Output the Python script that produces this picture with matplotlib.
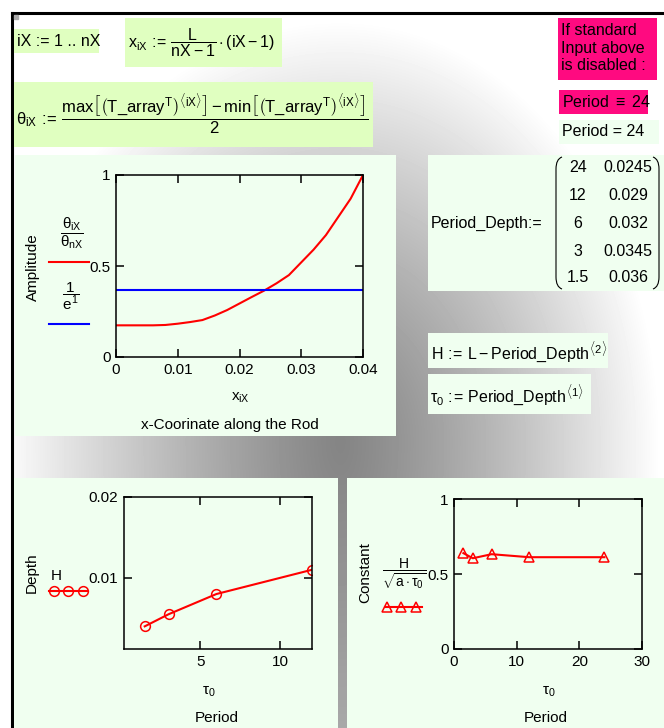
#!/usr/bin/env python3
"""Mathcad worksheet: amplitude along the rod and penetration depth vs period."""
import numpy as np
import matplotlib
matplotlib.use("Agg")
import matplotlib.pyplot as plt
from matplotlib.patches import Rectangle, PathPatch
from matplotlib.path import Path

plt.rcParams["font.family"] = ["Liberation Sans", "DejaVu Sans"]
plt.rcParams["mathtext.fontset"] = "custom"
plt.rcParams["mathtext.rm"] = "Liberation Sans"
plt.rcParams["mathtext.it"] = "Liberation Sans"
plt.rcParams["mathtext.bf"] = "Liberation Sans:bold"
plt.rcParams["mathtext.sf"] = "Liberation Sans"

x_rod = [0.0, 0.002, 0.004, 0.006, 0.008, 0.010, 0.012, 0.014, 0.016, 0.018, 0.020,
         0.022, 0.024, 0.026, 0.028, 0.030, 0.032, 0.034, 0.036, 0.038, 0.040]
amplitude = [0.174, 0.174, 0.174, 0.174, 0.176, 0.183, 0.192, 0.203, 0.228, 0.258, 0.294,
             0.330, 0.365, 0.405, 0.450, 0.520, 0.590, 0.670, 0.770, 0.870, 1.000]
inv_e = 0.368

period = [24, 12, 6, 3, 1.5]
depth = [0.0245, 0.029, 0.032, 0.0345, 0.036]
h_depth = [0.0155, 0.011, 0.008, 0.0055, 0.004]
constant = [0.612, 0.612, 0.632, 0.605, 0.639]

W, H = 664, 728
GREEN = "#e0ffc0"
PANEL = "#f0fff0"
PINK = "#ff0a80"
FS = 11.5
TICK_FS = 11
ASSIGN = r"\,:\!\!=\,"

fig = plt.figure(figsize=(W / 100, H / 100), dpi=100)
bg = fig.add_axes([0, 0, 1, 1])
bg.set_xlim(0, W)
bg.set_ylim(H, 0)
bg.axis("off")

# grey radial backdrop of the worksheet
yy, xx = np.mgrid[0:H, 0:W]
dx = (xx - 340) / np.where(xx < 340, 340, 320)
dy = (yy - 440) / np.where(yy < 440, 420, 800)
r = np.clip(np.hypot(dx, dy), 0, 1)
shade = 0.52 + 0.48 * r ** 1.2
shade[:13, :] = 1.0
shade[:, :11] = 1.0
bg.imshow(shade, extent=(0, W, H, 0), cmap="gray", vmin=0, vmax=1, aspect="auto", zorder=0)
bg.plot([12, 12], [13, H], color="black", lw=2.2, zorder=1)
bg.plot([12, W], [13, 13], color="black", lw=2.2, zorder=1)
bg.add_patch(Rectangle((14, 15), 4, 4, color="#aaaaaa", zorder=1))


def box(x0, y0, x1, y1, color):
    bg.add_patch(Rectangle((x0, y0), x1 - x0, y1 - y0, color=color, lw=0, zorder=2))


def txt(x, y, s, ha="left", size=FS, **kw):
    bg.text(x, y, s, ha=ha, va="center", fontsize=size, zorder=3, **kw)


box(14, 29, 99, 53, GREEN)
box(125, 18, 282, 67, GREEN)
box(14, 82, 373, 147, GREEN)
box(558, 18, 657, 80, PINK)
box(559, 90, 648, 114, PINK)
box(559, 120, 659, 144, PANEL)
box(428, 155, 664, 291, PANEL)
box(428, 333, 608, 368, PANEL)
box(428, 374, 591, 414, PANEL)
box(15, 155, 396, 436, PANEL)
box(14, 478, 338, H, PANEL)
box(347, 478, W, H, PANEL)

txt(17, 42, "iX := 1 .. nX")
txt(128, 43, r"$x_{iX}" + ASSIGN + r"\dfrac{L}{nX-1}\cdot(iX-1)$")
txt(16, 115, r"$\theta_{iX}" + ASSIGN
    + r"\dfrac{max\left[\left(T\_array^{T}\right)^{\langle iX\rangle}\right]"
      r"-min\left[\left(T\_array^{T}\right)^{\langle iX\rangle}\right]}{2}$", size=12)
bg.text(561, 48, "If standard\nInput above\nis disabled :", ha="left", va="center",
        fontsize=FS, linespacing=1.2, zorder=3)
txt(562, 102, r"Period $\equiv$ 24")
txt(562, 132, "Period = 24")

# Period_Depth matrix
txt(431, 223, "Period_Depth:=")
row_y = [168, 196, 223, 251, 278]
for yv, p, d in zip(row_y, period, depth):
    txt(578, yv, f"{p:g}", ha="center")
    txt(628, yv, f"{d:g}", ha="center")


def paren(x, y0, y1, side):
    s = 1 if side == "left" else -1
    verts = [(x + 6 * s, y0), (x, y0 + 2), (x, y0 + 12), (x, y1 - 12), (x, y1 - 2), (x + 6 * s, y1)]
    codes = [Path.MOVETO, Path.CURVE3, Path.CURVE3, Path.LINETO, Path.CURVE3, Path.CURVE3]
    bg.add_patch(PathPatch(Path(verts, codes), fill=False, lw=0.8, color="black", zorder=3))


paren(556, 157, 289, "left")
paren(659, 157, 289, "right")

txt(431, 352, r"$H" + ASSIGN + r"L-Period\_Depth^{\langle 2\rangle}$")
txt(430, 395, r"$\tau_{0}" + ASSIGN + r"Period\_Depth^{\langle 1\rangle}$")


def chart_axes(x0, y0, x1, y1):
    ax = fig.add_axes([x0 / W, 1 - y1 / H, (x1 - x0) / W, (y1 - y0) / H])
    ax.set_facecolor("none")
    ax.tick_params(direction="in", length=6, width=1.1, top=True, right=True,
                   labelsize=TICK_FS, pad=4)
    for sp in ax.spines.values():
        sp.set_linewidth(1.1)
    return ax


# chart 1: amplitude along the rod
ax1 = chart_axes(116, 175, 363, 357)
ax1.plot(x_rod, amplitude, color="red", lw=1.5)
ax1.axhline(inv_e, color="blue", lw=1.5)
ax1.set_xlim(0, 0.04)
ax1.set_ylim(0, 1)
ax1.set_xticks([0, 0.01, 0.02, 0.03, 0.04], ["0", "0.01", "0.02", "0.03", "0.04"])
ax1.set_yticks([0, 0.5, 1], ["0", "0.5", "1"])
txt(33, 267, "Amplitude", ha="center", rotation=90, size=TICK_FS)
txt(72, 233, r"$\dfrac{\theta_{iX}}{\theta_{nX}}$", ha="center", size=TICK_FS)
bg.plot([49, 89], [262, 262], color="red", lw=1.5, zorder=3)
txt(71, 296, r"$\dfrac{1}{e^{1}}$", ha="center", size=TICK_FS)
bg.plot([49, 89], [324, 324], color="blue", lw=1.5, zorder=3)
txt(240, 398, r"$x_{iX}$", ha="center", size=TICK_FS)
txt(230, 425, "x-Coorinate along the Rod", ha="center", size=TICK_FS)

# chart 2: depth vs period
ax2 = chart_axes(124, 497, 312, 649)
ax2.plot(period, h_depth, color="red", lw=1.5, marker="o", ms=7, mfc="none", mew=1.1)
ax2.set_xlim(0.2, 12)
ax2.set_ylim(0.0012, 0.02)
ax2.set_xticks([5, 10], ["5", "10"])
ax2.set_yticks([0.01, 0.02], ["0.01", "0.02"])
txt(32, 573, "Depth", ha="center", rotation=90, size=TICK_FS)
txt(56, 576, "H", ha="center", size=TICK_FS)
bg.plot([49, 88], [591, 591], color="red", lw=1.5, zorder=3)
bg.plot([54, 68, 83], [591, 591, 591], ls="none", marker="o", ms=7, mfc="none",
        mec="red", mew=1.1, zorder=3)
txt(209, 692, r"$\tau_{0}$", ha="center", size=TICK_FS)
txt(217, 718, "Period", ha="center", size=TICK_FS)

# chart 3: constant vs period
ax3 = chart_axes(454, 499, 642, 649)
ax3.plot(period, constant, color="red", lw=1.5, marker="^", ms=7, mfc="none", mew=1.1)
ax3.set_xlim(0, 30)
ax3.set_ylim(0, 1)
ax3.set_xticks([0, 10, 20, 30], ["0", "10", "20", "30"])
ax3.set_yticks([0, 0.5, 1], ["0", "0.5", "1"])
txt(365, 573, "Constant", ha="center", rotation=90, size=TICK_FS)
txt(404, 574, r"$\dfrac{H}{\sqrt{a\cdot\tau_{0}}}$", ha="center", size=10)
bg.plot([385, 422], [607, 607], color="red", lw=1.5, zorder=3)
bg.plot([387, 401, 416], [607, 607, 607], ls="none", marker="^", ms=7, mfc="none",
        mec="red", mew=1.1, zorder=3)
txt(549, 692, r"$\tau_{0}$", ha="center", size=TICK_FS)
txt(546, 718, "Period", ha="center", size=TICK_FS)

fig.savefig("out.png", dpi=100)
